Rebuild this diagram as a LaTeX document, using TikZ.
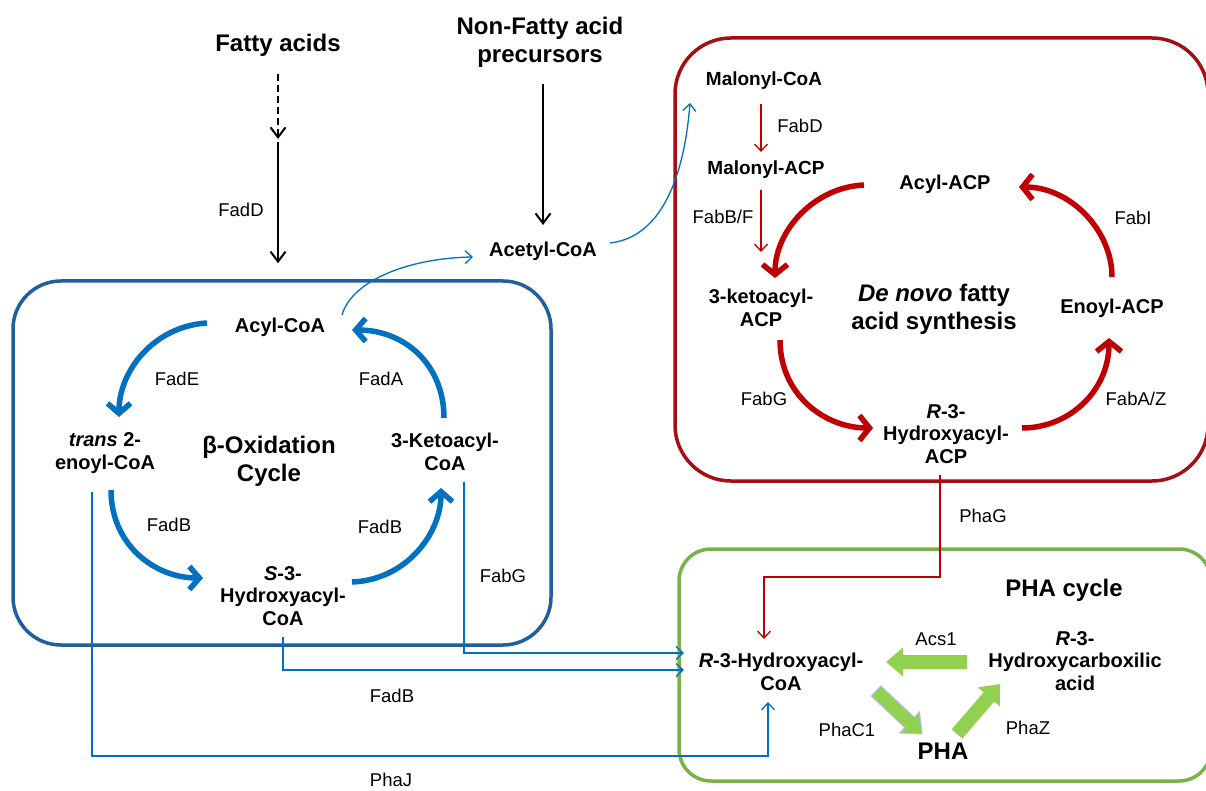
\documentclass[tikz,border=0pt]{standalone}
\usepackage{fontspec}
\setmainfont{Liberation Sans}
\usetikzlibrary{arrows.meta}
\definecolor{cbbox}{RGB}{31,95,160}
\definecolor{cbarr}{RGB}{0,112,192}
\definecolor{crbox}{RGB}{165,15,20}
\definecolor{crarr}{RGB}{192,0,0}
\definecolor{cgbox}{RGB}{122,178,70}
\definecolor{cgarr}{RGB}{146,208,80}
\definecolor{clav}{RGB}{185,190,240}
\begin{document}
\begin{tikzpicture}[x=1pt,y=-1pt,
  bnode/.style={font=\fontsize{20}{22.5}\selectfont\bfseries, align=center, inner sep=0pt},
  ttl/.style={font=\fontsize{24}{28}\selectfont\bfseries, align=center, inner sep=0pt},
  lbl/.style={font=\fontsize{18.5}{22}\selectfont, inner sep=0pt},
  boxstyle/.style={line width=3.5pt, inner sep=0pt, fill=none},
  blk/.style={draw=black, line width=2pt, -{Straight Barb[length=10pt,width=15pt]}},
  thinb/.style={draw=cbarr, line width=1.3pt, -{Straight Barb[length=7pt,width=13pt]}},
  thinr/.style={draw=crarr, line width=1.3pt, -{Straight Barb[length=7pt,width=13pt]}},
  thickb/.style={draw=cbarr, line width=5.5pt, -{Straight Barb[length=10pt,width=23pt]}},
  thickr/.style={draw=crarr, line width=5.5pt, -{Straight Barb[length=10pt,width=25pt]}},
  garrow/.style={fill=cgarr, draw=none}
]
\useasboundingbox (0,0) rectangle (1206,791);
\fill[white] (0,0) rectangle (1206,791);

% boxes
\node[boxstyle, draw=cbbox, rounded corners=48pt, minimum width=538pt, minimum height=364pt] (bbox) at (282,463) {};
\node[boxstyle, draw=crbox, rounded corners=56pt, minimum width=533pt, minimum height=443pt] (rbox) at (941.5,259.5) {};
\node[boxstyle, draw=cgbox, rounded corners=32pt, minimum width=532pt, minimum height=232pt] (gbox) at (945,665) {};

% titles
\node[ttl] (fa) at (278,45) {Fatty acids};
\node[ttl] (nfa) at (540,42) {Non-Fatty acid\\precursors};
\node[ttl] (boc) at (269,461) {β-Oxidation\\Cycle};
\node[ttl] (dnf) at (934,309) {\textit{De novo} fatty\\acid synthesis};
\node[ttl] (phac) at (1064,590) {PHA cycle};
\node[ttl] (pha) at (943,751) {PHA};

% metabolites
\node[bnode] (acetyl) at (543,251) {Acetyl-CoA};
\node[bnode] (bacyl) at (280,327) {Acyl-CoA};
\node[bnode] (btrans) at (105,453) {\textit{trans} 2-\\enoyl-CoA};
\node[bnode] (bketo) at (445,452) {3-Ketoacyl-\\CoA};
\node[bnode] (bshyd) at (283,596) {\textit{S}-3-\\Hydroxyacyl-\\CoA};
\node[bnode, font=\fontsize{19}{22.5}\selectfont\bfseries] (malcoa) at (764,81) {Malonyl-CoA};
\node[bnode, font=\fontsize{19}{22.5}\selectfont\bfseries] (malacp) at (766,170) {Malonyl-ACP};
\node[bnode] (racyl) at (945,184) {Acyl-ACP};
\node[bnode] (rketo) at (761,308) {3-ketoacyl-\\ACP};
\node[bnode] (renoyl) at (1112,308) {Enoyl-ACP};
\node[bnode] (rrhyd) at (946,434) {\textit{R}-3-\\Hydroxyacyl-\\ACP};
\node[bnode] (gr3h) at (781,672) {\textit{R}-3-Hydroxyacyl-\\CoA};
\node[bnode] (grcarb) at (1075,661) {\textit{R}-3-\\Hydroxycarboxilic\\acid};

% enzyme labels
\node[lbl] (lfadd) at (241,210) {FadD};
\node[lbl] (lfade) at (177,379) {FadE};
\node[lbl] (lfada) at (381,379) {FadA};
\node[lbl] (lfadb1) at (169,525) {FadB};
\node[lbl] (lfadb2) at (380,527) {FadB};
\node[lbl] (lfabg1) at (503,576) {FabG};
\node[lbl] (lfadb3) at (392,696) {FadB};
\node[lbl] (lphaj) at (391,780) {PhaJ};
\node[lbl] (lfabd) at (800,126) {FabD};
\node[lbl] (lfabbf) at (723,217) {FabB/F};
\node[lbl] (lfabi) at (1133,218) {FabI};
\node[lbl] (lfabg2) at (764,399) {FabG};
\node[lbl] (lfabaz) at (1136,399) {FabA/Z};
\node[lbl] (lphag) at (983,516) {PhaG};
\node[lbl] (lacs) at (936,639) {Acs1};
\node[lbl] (lphac) at (847,730) {PhaC1};
\node[lbl] (lphaz) at (1028,728) {PhaZ};

% black arrows
\coordinate (famid) at (278,139);
\draw[blk, dash pattern=on 7pt off 4pt] ([shift={(0,29)}]fa.center) -- (famid);
\draw[blk] ([shift={(0,3)}]famid) -- ([shift={(-4,-16)}]bbox.north);
\draw[blk] ([shift={(3,42)}]nfa.center) -- ([shift={(0,-26)}]acetyl.center);

% thin blue curves
\draw[thinb] ([shift={(62,-12)}]bacyl.center) .. controls (352,280) and (410,258) .. ([shift={(-70,6)}]acetyl.center);
\draw[thinb] ([shift={(67,-8)}]acetyl.center) .. controls (655,238) and (683,190) .. ([shift={(-74,22)}]malcoa.center);

% beta-oxidation cycle
\draw[thickb] ([shift={(-73,-4)}]bacyl.center) .. controls (155,326) and (119,370) .. ([shift={(14,-36)}]btrans.center);
\draw[thickb] ([shift={(6,37)}]btrans.center) .. controls (111,545) and (155,578) .. ([shift={(-80,-18)}]bshyd.center);
\draw[thickb] ([shift={(69,-14)}]bshyd.center) .. controls (405,580) and (441,535) .. ([shift={(-4,36)}]bketo.center);
\draw[thickb] ([shift={(-1,-34)}]bketo.center) .. controls (444,365) and (405,330) .. ([shift={(72,3)}]bacyl.center);

% thin blue elbows to PHA cycle
\draw[thinb] ([shift={(-13,39)}]btrans.center) |- ([shift={(-13,84)}]gr3h.center) -- ([shift={(-13,30)}]gr3h.center);
\draw[thinb] ([shift={(0,41)}]bshyd.center) |- ([shift={(-97,-2)}]gr3h.center);
\draw[thinb] ([shift={(19,30)}]bketo.center) |- ([shift={(-97,-19)}]gr3h.center);

% red thin
\draw[thinr] ([shift={(-3,23)}]malcoa.center) -- ([shift={(-5,-18)}]malacp.center);
\draw[thinr] ([shift={(-5,20)}]malacp.center) -- ([shift={(0,-56)}]rketo.center);
\draw[thinr] ([shift={(-6,41)}]rrhyd.center) |- ([shift={(-17,-95)}]gr3h.center) -- ([shift={(-17,-33)}]gr3h.center);

% de novo cycle
\draw[thickr] ([shift={(-81,1)}]racyl.center) .. controls (815,187) and (775,230) .. ([shift={(14,-30)}]rketo.center);
\draw[thickr] ([shift={(19,32)}]rketo.center) .. controls (780,395) and (825,428) .. ([shift={(-73,-6)}]rrhyd.center);
\draw[thickr] ([shift={(76,-6)}]rrhyd.center) .. controls (1070,428) and (1109,390) .. ([shift={(-3,30)}]renoyl.center);
\draw[thickr] ([shift={(0,-31)}]renoyl.center) .. controls (1112,230) and (1070,187) .. ([shift={(74,3)}]racyl.center);

% green block arrows
\fill[garrow] (967,655) -- (903,655) -- (903,647.5) -- (886,662) -- (903,676.5) -- (903,669) -- (967,669) -- cycle;
\draw[garrow, draw=clav, line width=1pt] (871.2,696.1) -- (904.8,727.5) -- (899.7,733.0) -- (922,734) -- (919.5,711.8) -- (914.4,717.3) -- (880.8,685.9) -- cycle;
\fill[garrow] (962.3,738.6) -- (994.2,701.5) -- (999.9,706.4) -- (1000,684) -- (977.9,687.4) -- (983.6,692.3) -- (951.7,729.4) -- cycle;
\end{tikzpicture}
\end{document}
